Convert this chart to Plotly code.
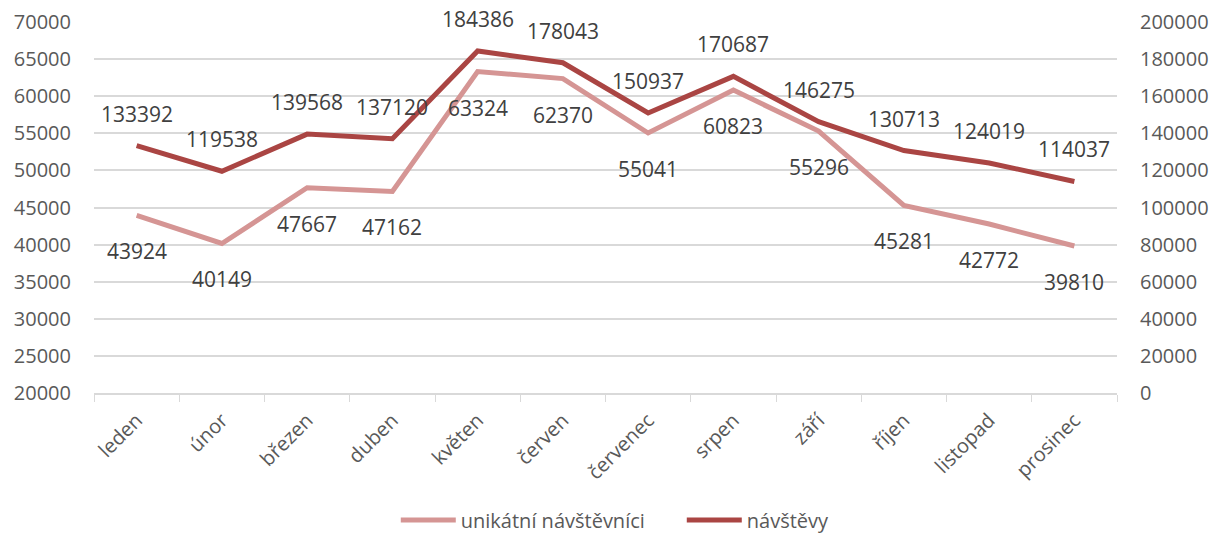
import plotly.graph_objects as go

months = ["leden", "únor", "březen", "duben", "květen", "červen",
          "červenec", "srpen", "září", "říjen", "listopad", "prosinec"]
unikatni = [43924, 40149, 47667, 47162, 63324, 62370, 55041, 60823, 55296, 45281, 42772, 39810]
navstevy = [133392, 119538, 139568, 137120, 184386, 178043, 150937, 170687, 146275, 130713, 124019, 114037]

left_ticks = [20000, 25000, 30000, 35000, 40000, 45000, 50000, 55000, 60000, 65000, 70000]
right_ticks = [0, 20000, 40000, 60000, 80000, 100000, 120000, 140000, 160000, 180000, 200000]

C_LIGHT = "#D59594"
C_DARK = "#AA4543"
FONT = "Open Sans"
LABEL_COLOR = "#404040"
TICK_COLOR = "#595959"
GRID = "#D9D9D9"

fig = go.Figure()
fig.add_trace(go.Scatter(x=months, y=unikatni, mode="lines", name="unikátní návštěvníci",
                         line=dict(color=C_LIGHT, width=5), yaxis="y"))
fig.add_trace(go.Scatter(x=months, y=navstevy, mode="lines", name="návštěvy",
                         line=dict(color=C_DARK, width=5), yaxis="y2"))

annotations = []
for m, v in zip(months, unikatni):
    annotations.append(dict(x=m, y=v, xref="x", yref="y", text=str(v), showarrow=False,
                            yshift=-36, font=dict(family=FONT, size=21, color=LABEL_COLOR)))
for m, v in zip(months, navstevy):
    annotations.append(dict(x=m, y=v, xref="x", yref="y2", text=str(v), showarrow=False,
                            yshift=32, font=dict(family=FONT, size=21, color=LABEL_COLOR)))

fig.update_layout(
    width=1212, height=527,
    margin=dict(l=86, r=103, t=14, b=142, autoexpand=False),
    paper_bgcolor="white", plot_bgcolor="white",
    font=dict(family=FONT, size=20, color=TICK_COLOR),
    showlegend=True,
    legend=dict(orientation="h", x=0.295, xanchor="left", y=-0.342, yanchor="middle",
                font=dict(family=FONT, size=20, color=TICK_COLOR), itemwidth=55,
                entrywidth=216, traceorder="normal"),
    xaxis=dict(type="category", tickangle=-45, tickson="boundaries", ticks="outside",
               ticklen=7, tickcolor=GRID, showline=True, linecolor=GRID, linewidth=1.5,
               showgrid=False, automargin=False, ticklabelstandoff=6,
               tickfont=dict(family=FONT, size=20, color=TICK_COLOR),
               range=[-0.5, 11.5]),
    yaxis=dict(range=[20000, 70000], tickvals=left_ticks, ticktext=[str(t) for t in left_ticks],
               showgrid=True, gridcolor=GRID, gridwidth=1.5, zeroline=False, showline=False,
               automargin=False, ticks="", ticklabelstandoff=22,
               tickfont=dict(family=FONT, size=20, color=TICK_COLOR)),
    yaxis2=dict(range=[0, 200000], tickvals=right_ticks, ticktext=[str(t) for t in right_ticks],
                overlaying="y", side="right", showgrid=False, zeroline=False, showline=False,
                automargin=False, ticks="", ticklabelstandoff=22,
                tickfont=dict(family=FONT, size=20, color=TICK_COLOR)),
    annotations=annotations,
)

fig.write_html("out.html")
